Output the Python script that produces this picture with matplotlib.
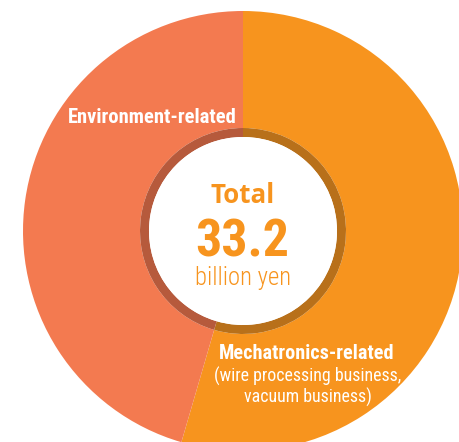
import matplotlib
matplotlib.use("Agg")
import matplotlib.pyplot as plt
from matplotlib.patches import Circle
from matplotlib.textpath import TextPath
from matplotlib.font_manager import FontProperties

# Data
categories = ["Mechatronics-related", "Environment-related"]
values = [18.1, 15.1]  # billion yen
total_label = "33.2"
colors = ["#F7941E", "#F37A50"]
ring_colors = ["#B8701A", "#B65A3C"]

W, H = 459, 442
fig = plt.figure(figsize=(W / 100, H / 100), dpi=100)
ax = fig.add_axes([0, 0, 1, 1])

cx, cy = 243, H - 231
R = 220
r_ring = 103
r_white = 94

ax.pie(values, colors=colors, startangle=90, counterclock=False,
       center=(cx, cy), radius=R, wedgeprops=dict(width=R - r_ring, linewidth=0),
       frame=True)
ax.pie(values, colors=ring_colors, startangle=90, counterclock=False,
       center=(cx, cy), radius=r_ring, wedgeprops=dict(width=r_ring - r_white, linewidth=0),
       frame=True)
ax.add_patch(Circle((cx, cy), r_white, facecolor="white", edgecolor="none", zorder=5))
ax.set_xlim(0, W)
ax.set_ylim(0, H)
ax.set_aspect("equal")
ax.axis("off")

narrow = ["Roboto Condensed", "Archivo Narrow", "DejaVu Sans"]
renderer = fig.canvas.get_renderer()


def fit_text(x, y_base_px, s, target_w, cap_h, size0=14, family=None,
             fontweight="normal", **kw):
    t = ax.text(x, H - y_base_px, s, ha="center", va="baseline", fontsize=size0,
                zorder=6, family=family, fontweight=fontweight, **kw)
    w = t.get_window_extent(renderer).width
    size_w = size0 * target_w / w
    prop = t.get_fontproperties()
    hp = TextPath((0, 0), "H", size=100, prop=prop).get_extents().height / 100.0
    # cap height in px for size in pt: size * dpi/72 * hp
    size_h = cap_h / (hp * 100 / 72.0)
    t.set_fontsize((size_w * size_h) ** 0.5)
    return t


fit_text(152, 123.3, "Environment-related", 166, 15, color="white",
         fontweight="bold", family=narrow)
fit_text(307, 359, "Mechatronics-related", 174, 14.5, color="white",
         fontweight="bold", family=narrow)
t = fit_text(308, 381.7, "(wire processing business,", 178, 13.5, color="white",
             family=narrow)
ax.text(308, H - 402.7, "vacuum business)", color="white", fontsize=t.get_fontsize(),
        family=narrow, ha="center", va="baseline", zorder=6)

orange = "#F7941E"
fit_text(243, 203, "Total", 65, 18.3, color=orange, fontweight="bold",
         family=["Open Sans", "DejaVu Sans"])
fit_text(242, 256.7, total_label, 89, 39, color=orange, fontweight="bold",
         family=narrow)
fit_text(243, 285, "billion yen", 97, 17.5, color=orange, fontweight="light",
         family=narrow)

fig.savefig("out.png", dpi=100)
